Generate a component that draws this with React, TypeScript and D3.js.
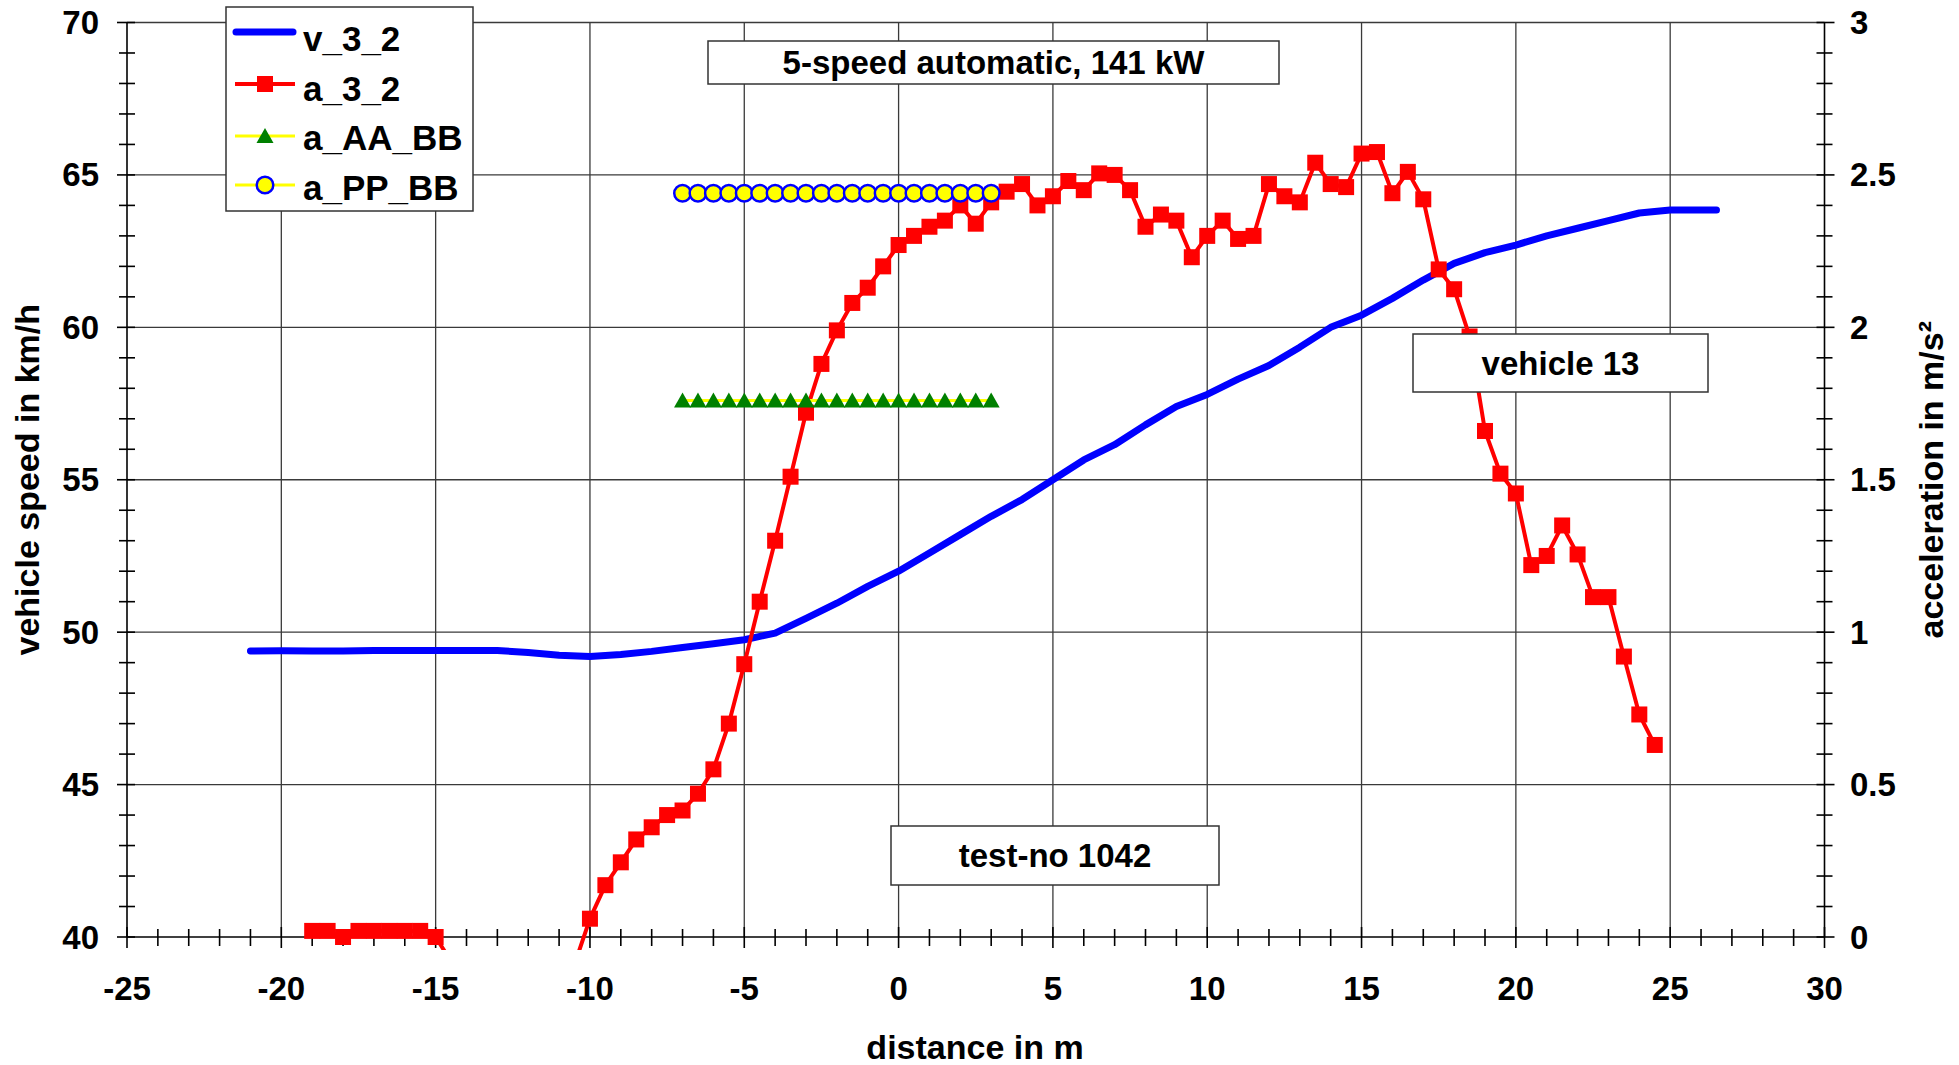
import { useEffect, useRef } from "react";
import * as d3 from "d3";

// v_3_2 : vehicle speed (km/h) over distance (m)
const speedDist = [
  -21, -20, -19, -18, -17, -16, -15, -14, -13, -12, -11, -10, -9, -8, -7, -6, -5, -4, -3, -2, -1,
  0, 1, 2, 3, 4, 5, 6, 7, 8, 9, 10, 11, 12, 13, 14, 15, 16, 17, 18, 19, 20, 21, 22, 23, 24, 25, 26, 26.5
];
const speedVals = [
  49.38, 49.39, 49.38, 49.38, 49.4, 49.4, 49.4, 49.4, 49.4, 49.33, 49.24, 49.2, 49.27, 49.37, 49.5, 49.62,
  49.75, 49.97, 50.45, 50.95, 51.5, 52.0, 52.6, 53.2, 53.8, 54.35, 55.0, 55.65, 56.15, 56.8, 57.4, 57.8,
  58.3, 58.75, 59.35, 60.0, 60.4, 60.95, 61.55, 62.1, 62.45, 62.7, 63.0, 63.25, 63.5, 63.75, 63.85, 63.85, 63.85
];

// a_3_2 : acceleration (m/s²)
const accDist = [
  -19, -18.5, -18, -17.5, -17, -16.5, -16, -15.5, -15, -14.5, -14, -13.5, -13, -12.5, -12, -11.5, -11, -10.5,
  -10, -9.5, -9, -8.5, -8, -7.5, -7, -6.5, -6, -5.5, -5, -4.5, -4, -3.5, -3, -2.5, -2, -1.5, -1, -0.5,
  0, 0.5, 1, 1.5, 2, 2.5, 3, 3.5, 4, 4.5, 5, 5.5, 6, 6.5, 7, 7.5, 8, 8.5, 9, 9.5,
  10, 10.5, 11, 11.5, 12, 12.5, 13, 13.5, 14, 14.5, 15, 15.5, 16, 16.5, 17, 17.5, 18, 18.5, 19, 19.5,
  20, 20.5, 21, 21.5, 22, 22.5, 23, 23.5, 24, 24.5
];
const accVals = [
  0.02, 0.02, 0.0, 0.02, 0.02, 0.02, 0.02, 0.02, 0.0, -0.08, -0.14, -0.18, -0.2, -0.21, -0.2, -0.17, -0.13, -0.09,
  0.06, 0.17, 0.245, 0.32, 0.36, 0.4, 0.415, 0.47, 0.55, 0.7, 0.895, 1.1, 1.3, 1.51, 1.72, 1.88, 1.99, 2.08, 2.13, 2.2,
  2.27, 2.3, 2.33, 2.35, 2.4, 2.34, 2.41, 2.445, 2.47, 2.4, 2.43, 2.48, 2.45, 2.505, 2.5, 2.45, 2.33, 2.37, 2.35, 2.23,
  2.3, 2.35, 2.29, 2.3, 2.47, 2.43, 2.41, 2.54, 2.47, 2.46, 2.57, 2.575, 2.44, 2.51, 2.42, 2.19, 2.125, 1.97, 1.66, 1.52,
  1.455, 1.22, 1.25, 1.35, 1.255, 1.115, 1.115, 0.92, 0.73, 0.63
];

// a_AA_BB and a_PP_BB reference levels
const refDist = [-7, -6.5, -6, -5.5, -5, -4.5, -4, -3.5, -3, -2.5, -2, -1.5, -1, -0.5, 0, 0.5, 1, 1.5, 2, 2.5, 3];
const aaVals = [1.76, 1.76, 1.76, 1.76, 1.76, 1.76, 1.76, 1.76, 1.76, 1.76, 1.76, 1.76, 1.76, 1.76, 1.76, 1.76, 1.76, 1.76, 1.76, 1.76, 1.76];
const ppVals = [2.44, 2.44, 2.44, 2.44, 2.44, 2.44, 2.44, 2.44, 2.44, 2.44, 2.44, 2.44, 2.44, 2.44, 2.44, 2.44, 2.44, 2.44, 2.44, 2.44, 2.44];

const distTicks = [-25, -20, -15, -10, -5, 0, 5, 10, 15, 20, 25, 30];
const speedTicks = [40, 45, 50, 55, 60, 65, 70];
const accTicks = [0, 0.5, 1, 1.5, 2, 2.5, 3];

const FONT = "'Liberation Sans', Arial, sans-serif";

export default function App() {
  const svgRef = useRef<SVGSVGElement | null>(null);

  useEffect(() => {
    if (!svgRef.current) return;
    const svg = d3.select(svgRef.current);
    svg.selectAll("*").remove();

    const left = 127, right = 1824.5, top = 22.5, bottom = 937;

    const x = d3.scaleLinear().domain([-25, 30]).range([left, right]);
    const yL = d3.scaleLinear().domain([40, 70]).range([bottom, top]);
    const yR = d3.scaleLinear().domain([0, 3]).range([bottom, top]);

    svg.append("rect").attr("width", 1959).attr("height", 1065).attr("fill", "#fff");

    const defs = svg.append("defs");
    defs.append("clipPath").attr("id", "plotClip")
      .append("rect")
      .attr("x", left).attr("y", top - 10)
      .attr("width", right - left).attr("height", bottom - top + 23);

    // grid
    const grid = svg.append("g").attr("stroke", "#3a3a3a").attr("stroke-width", 1.3);
    grid.selectAll(".gx")
      .data(distTicks.slice(1, -1))
      .enter().append("line")
      .attr("x1", d => x(d)).attr("x2", d => x(d))
      .attr("y1", top).attr("y2", bottom);
    grid.selectAll(".gy")
      .data(speedTicks.slice(1))
      .enter().append("line")
      .attr("x1", left).attr("x2", right)
      .attr("y1", d => yL(d)).attr("y2", d => yL(d));

    // axes lines + ticks (ticks cross the axis)
    const ax = svg.append("g").attr("stroke", "#000").attr("stroke-width", 1.6);
    ax.append("line").attr("x1", left).attr("x2", left).attr("y1", top).attr("y2", bottom);
    ax.append("line").attr("x1", right).attr("x2", right).attr("y1", top).attr("y2", bottom);
    ax.append("line").attr("x1", left).attr("x2", right).attr("y1", bottom).attr("y2", bottom);

    const minorY = d3.range(40, 70.01, 1);
    ax.selectAll(".ml")
      .data(minorY)
      .enter().append("line")
      .attr("x1", d => left - (d % 5 === 0 ? 10 : 8)).attr("x2", left + 8)
      .attr("y1", d => yL(d)).attr("y2", d => yL(d));
    ax.selectAll(".mr")
      .data(minorY)
      .enter().append("line")
      .attr("x1", right - 8).attr("x2", d => right + (d % 5 === 0 ? 10 : 8))
      .attr("y1", d => yL(d)).attr("y2", d => yL(d));
    const minorX = d3.range(-25, 30.01, 1);
    ax.selectAll(".mx")
      .data(minorX)
      .enter().append("line")
      .attr("x1", d => x(d)).attr("x2", d => x(d))
      .attr("y1", d => bottom - (d % 5 === 0 ? 10 : 8))
      .attr("y2", d => bottom + (d % 5 === 0 ? 11 : 9));

    // tick labels
    const lbl = svg.append("g")
      .attr("font-family", FONT).attr("font-weight", "bold").attr("fill", "#000");
    lbl.selectAll(".tl")
      .data(speedTicks)
      .enter().append("text")
      .attr("font-size", 33)
      .attr("x", 99).attr("y", d => yL(d) + 11.5)
      .attr("text-anchor", "end")
      .text(d => d);
    lbl.selectAll(".tr")
      .data(accTicks)
      .enter().append("text")
      .attr("font-size", 33)
      .attr("x", 1850).attr("y", d => yR(d) + 11.5)
      .text(d => d);
    lbl.selectAll(".tb")
      .data(distTicks)
      .enter().append("text")
      .attr("font-size", 33)
      .attr("x", d => x(d)).attr("y", 1000)
      .attr("text-anchor", "middle")
      .text(d => d);

    // axis titles
    lbl.append("text")
      .attr("font-size", 34)
      .attr("transform", `translate(39, ${(top + bottom) / 2}) rotate(-90)`)
      .attr("text-anchor", "middle")
      .text("vehicle speed in km/h");
    lbl.append("text")
      .attr("font-size", 34)
      .attr("transform", `translate(1943, ${(top + bottom) / 2}) rotate(-90)`)
      .attr("text-anchor", "middle")
      .text("acceleration in m/s²");
    lbl.append("text")
      .attr("font-size", 34)
      .attr("x", 975).attr("y", 1059)
      .attr("text-anchor", "middle")
      .text("distance in m");

    const plot = svg.append("g").attr("clip-path", "url(#plotClip)");

    // v_3_2
    const speedData = speedDist.map((d, i) => ({ d, v: speedVals[i] }));
    plot.append("path")
      .datum(speedData)
      .attr("fill", "none")
      .attr("stroke", "#0000ff")
      .attr("stroke-width", 7)
      .attr("stroke-linecap", "round")
      .attr("stroke-linejoin", "round")
      .attr("d", d3.line<any>().x(p => x(p.d)).y(p => yL(p.v)));

    // a_3_2
    const accData = accDist.map((d, i) => ({ d, v: accVals[i] }));
    plot.append("path")
      .datum(accData)
      .attr("fill", "none")
      .attr("stroke", "#ff0000")
      .attr("stroke-width", 4)
      .attr("stroke-linejoin", "round")
      .attr("d", d3.line<any>().x(p => x(p.d)).y(p => yR(p.v)));
    plot.selectAll(".sq")
      .data(accData)
      .enter().append("rect")
      .attr("x", p => x(p.d) - 8).attr("y", p => yR(p.v) - 8)
      .attr("width", 16).attr("height", 16)
      .attr("fill", "#ff0000");

    // a_AA_BB
    const aaData = refDist.map((d, i) => ({ d, v: aaVals[i] }));
    plot.append("path")
      .datum(aaData)
      .attr("fill", "none")
      .attr("stroke", "#ffff00")
      .attr("stroke-width", 3)
      .attr("d", d3.line<any>().x(p => x(p.d)).y(p => yR(p.v)));
    plot.selectAll(".tri")
      .data(aaData)
      .enter().append("path")
      .attr("d", p => {
        const cx = x(p.d), cy = yR(p.v);
        return `M${cx - 8.5},${cy + 7}L${cx},${cy - 8}L${cx + 8.5},${cy + 7}Z`;
      })
      .attr("fill", "#008000");

    // a_PP_BB
    const ppData = refDist.map((d, i) => ({ d, v: ppVals[i] }));
    plot.append("path")
      .datum(ppData)
      .attr("fill", "none")
      .attr("stroke", "#ffff00")
      .attr("stroke-width", 3)
      .attr("d", d3.line<any>().x(p => x(p.d)).y(p => yR(p.v)));
    plot.selectAll(".circ")
      .data(ppData)
      .enter().append("circle")
      .attr("cx", p => x(p.d)).attr("cy", p => yR(p.v))
      .attr("r", 8.3)
      .attr("fill", "#ffff00")
      .attr("stroke", "#0000ff")
      .attr("stroke-width", 2.5);

    // annotation boxes
    const boxes = [
      { x0: 708, y0: 41, x1: 1279, y1: 84, label: "5-speed automatic, 141 kW" },
      { x0: 1413, y0: 334, x1: 1708, y1: 392, label: "vehicle 13" },
      { x0: 891, y0: 826, x1: 1219, y1: 885, label: "test-no 1042" }
    ];
    const bx = svg.append("g");
    boxes.forEach(b => {
      bx.append("rect")
        .attr("x", b.x0).attr("y", b.y0)
        .attr("width", b.x1 - b.x0).attr("height", b.y1 - b.y0)
        .attr("fill", "#fff").attr("stroke", "#333").attr("stroke-width", 1.5);
      bx.append("text")
        .attr("x", (b.x0 + b.x1) / 2).attr("y", (b.y0 + b.y1) / 2 + 11.5)
        .attr("text-anchor", "middle")
        .attr("font-family", FONT).attr("font-weight", "bold").attr("font-size", 33)
        .text(b.label);
    });

    // legend
    const lg = svg.append("g");
    lg.append("rect")
      .attr("x", 226).attr("y", 7).attr("width", 247).attr("height", 204)
      .attr("fill", "#fff").attr("stroke", "#333").attr("stroke-width", 1.5);
    const items = [
      { name: "v_3_2", sy: 32, ty: 38 },
      { name: "a_3_2", sy: 84, ty: 88 },
      { name: "a_AA_BB", sy: 136, ty: 137 },
      { name: "a_PP_BB", sy: 185, ty: 187 }
    ];
    items.forEach((it, i) => {
      const g = lg.append("g");
      if (i === 0) {
        g.append("line").attr("x1", 236).attr("x2", 293).attr("y1", it.sy).attr("y2", it.sy)
          .attr("stroke", "#0000ff").attr("stroke-width", 7).attr("stroke-linecap", "round");
      } else if (i === 1) {
        g.append("line").attr("x1", 235).attr("x2", 295).attr("y1", it.sy).attr("y2", it.sy)
          .attr("stroke", "#ff0000").attr("stroke-width", 4);
        g.append("rect").attr("x", 257).attr("y", it.sy - 8).attr("width", 16).attr("height", 16)
          .attr("fill", "#ff0000");
      } else if (i === 2) {
        g.append("line").attr("x1", 235).attr("x2", 295).attr("y1", it.sy).attr("y2", it.sy)
          .attr("stroke", "#ffff00").attr("stroke-width", 3);
        g.append("path").attr("d", `M${256.5},${it.sy + 7}L265,${it.sy - 8}L${273.5},${it.sy + 7}Z`)
          .attr("fill", "#008000");
      } else {
        g.append("line").attr("x1", 235).attr("x2", 295).attr("y1", it.sy).attr("y2", it.sy)
          .attr("stroke", "#ffff00").attr("stroke-width", 3);
        g.append("circle").attr("cx", 265).attr("cy", it.sy).attr("r", 8.3)
          .attr("fill", "#ffff00").attr("stroke", "#0000ff").attr("stroke-width", 2.5);
      }
      g.append("text")
        .attr("x", 303).attr("y", it.ty + 12.5)
        .attr("font-family", FONT).attr("font-weight", "bold").attr("font-size", 35)
        .text(it.name);
    });
  }, []);

  return (
    <svg
      ref={svgRef}
      width={1959}
      height={1065}
      style={{ position: "absolute", left: 0, top: 0, display: "block" }}
    />
  );
}
